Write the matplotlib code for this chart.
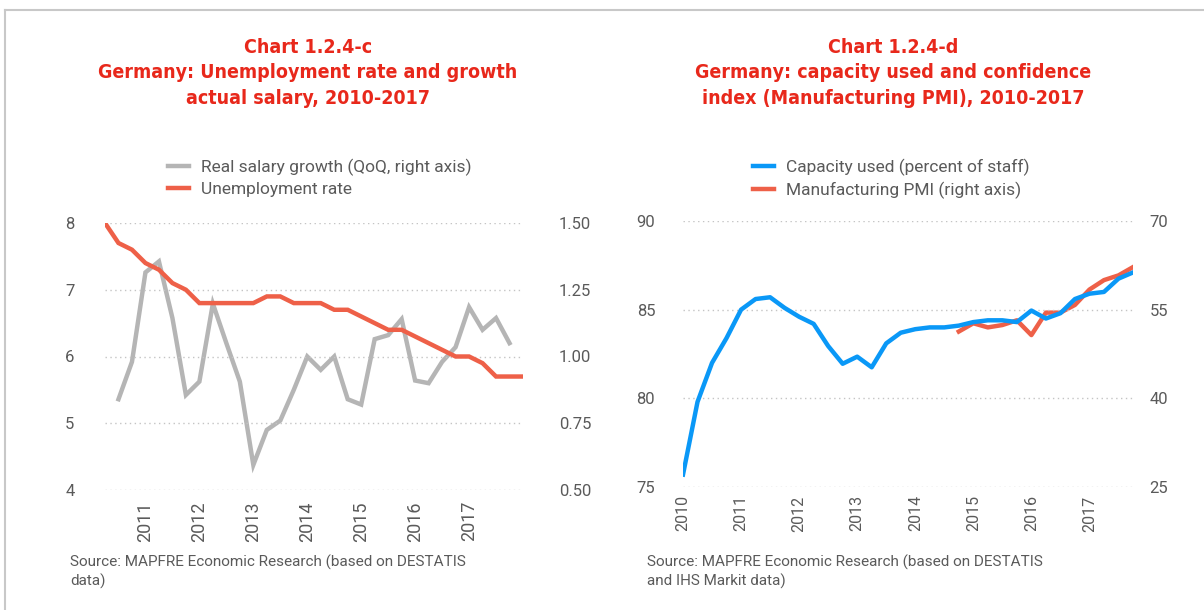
import numpy as np
import matplotlib
matplotlib.use('Agg')
import matplotlib.pyplot as plt
from matplotlib.lines import Line2D
from matplotlib import font_manager

# data, quarterly 2010-2017 (32 points)
unemployment = [8.0, 7.7, 7.6, 7.4, 7.3, 7.1, 7.0, 6.8, 6.8, 6.8, 6.8, 6.8, 6.9, 6.9, 6.8, 6.8,
                6.8, 6.7, 6.7, 6.6, 6.5, 6.4, 6.4, 6.3, 6.2, 6.1, 6.0, 6.0, 5.9, 5.7, 5.7, 5.7]
salary_growth = [np.nan, 0.84, 0.98, 1.315, 1.356, 1.144, 0.856, 0.906, 1.198, 1.05, 0.906, 0.594,
                 0.725, 0.76, 0.875, 1.0, 0.95, 1.0, 0.84, 0.82, 1.065, 1.08, 1.14, 0.91,
                 0.90, 0.98, 1.035, 1.185, 1.10, 1.144, 1.05, np.nan]
capacity = [75.7, 79.8, 82.0, 83.4, 85.0, 85.6, 85.7, 85.1, 84.6, 84.2, 82.95, 81.95, 82.35, 81.75,
            83.1, 83.7, 83.9, 84.0, 84.0, 84.1, 84.3, 84.4, 84.4, 84.3, 84.95, 84.5, 84.8, 85.6,
            85.9, 86.0, 86.75, 87.1]
pmi = [np.nan] * 19 + [51.3, 52.7, 52.0, 52.4, 53.2, 50.7, 54.5, 54.5, 55.8, 58.4, 60.0, 60.8, 62.2]
years_c = ['2011', '2012', '2013', '2014', '2015', '2016', '2017']
years_d = ['2010', '2011', '2012', '2013', '2014', '2015', '2016', '2017']

RED = '#ee6048'
GREY = '#b5b5b5'
BLUE = '#0a98f7'
TITLE_RED = '#e8281b'
TXT = '#5a5a5a'
GRID = '#c4c4c4'
BODY_FONT = ['Roboto', 'DejaVu Sans']

# narrow bold font for the titles if there is one
narrow = None
for f in font_manager.fontManager.ttflist:
    if f.weight in ('bold', 700) and f.stretch in ('condensed', 'semi-condensed', 'extra-condensed'):
        narrow = f
        break
if narrow is not None:
    title_kw = dict(family=[narrow.name, 'DejaVu Sans'], fontstretch=narrow.stretch, fontsize=14)
else:
    title_kw = dict(family=['DejaVu Sans'], fontsize=12.5)

plt.rcParams['font.family'] = BODY_FONT

fig = plt.figure(figsize=(12.04, 6.10), dpi=100)

# frame around the page
fig.add_artist(Line2D([0.004, 1.0], [0.984, 0.984], color='#c8c8c8', lw=1.5))
fig.add_artist(Line2D([0.004, 0.004], [0.0, 0.984], color='#c8c8c8', lw=1.5))

x = np.arange(32)


def style_axes(ax, twin):
    for a in (ax, twin):
        for s in a.spines.values():
            s.set_visible(False)
        a.tick_params(length=0, colors=TXT, labelsize=12)
    ax.grid(axis='y', linestyle=(0, (1, 2.5)), color=GRID, lw=1)
    ax.set_axisbelow(True)


# ---- left chart
ax1 = fig.add_axes([105 / 1204, 1 - 490 / 610, 418 / 1204, 267 / 610])
ax1b = ax1.twinx()
ax1b.plot(x, salary_growth, color=GREY, lw=3.2, solid_joinstyle='miter')
ax1.plot(x, unemployment, color=RED, lw=3.2, solid_joinstyle='miter')
ax1.set_zorder(ax1b.get_zorder() + 1)
ax1.patch.set_visible(False)
ax1.set_xlim(0, 31)
ax1.set_ylim(4, 8)
ax1.set_yticks([4, 5, 6, 7, 8])
ax1b.set_ylim(0.5, 1.5)
ax1b.set_yticks([0.5, 0.75, 1.0, 1.25, 1.5])
ax1b.set_yticklabels(['0.50', '0.75', '1.00', '1.25', '1.50'])
style_axes(ax1, ax1b)
ax1.tick_params(axis='y', pad=22)
ax1b.tick_params(axis='y', pad=26)
ax1.set_xticks([3, 7, 11, 15, 19, 23, 27])
ax1.set_xticklabels(years_c, rotation=90)
ax1.tick_params(axis='x', pad=8, labelsize=13)

fig.text(308 / 1204, 1 - 73 / 610,
         'Chart 1.2.4-c\nGermany: Unemployment rate and growth\nactual salary, 2010-2017',
         ha='center', va='center', color=TITLE_RED, fontweight='bold',
         linespacing=1.45, **title_kw)

h1 = [Line2D([], [], color=GREY, lw=3.2), Line2D([], [], color=RED, lw=3.2)]
fig.legend(h1, ['Real salary growth (QoQ, right axis)', 'Unemployment rate'],
           loc='upper left', bbox_to_anchor=(168 / 1204, 1 - 159 / 610), frameon=False,
           fontsize=12.5, handlelength=1.2, handletextpad=0.7, labelspacing=0.3,
           labelcolor=TXT, borderaxespad=0, borderpad=0)

fig.text(70 / 1204, 1 - 572 / 610,
         'Source: MAPFRE Economic Research (based on DESTATIS\ndata)',
         ha='left', va='center', color=TXT, fontsize=11, linespacing=1.3)

# ---- right chart
ax2 = fig.add_axes([683 / 1204, 1 - 487 / 610, 450 / 1204, 266 / 610])
ax2b = ax2.twinx()
ax2b.plot(x, pmi, color=RED, lw=3.2)
ax2.plot(x, capacity, color=BLUE, lw=3.2)
ax2.set_zorder(ax2b.get_zorder() + 1)
ax2.patch.set_visible(False)
ax2.set_xlim(0, 31)
ax2.set_ylim(75, 90)
ax2.set_yticks([75, 80, 85, 90])
ax2b.set_ylim(25, 70)
ax2b.set_yticks([25, 40, 55, 70])
style_axes(ax2, ax2b)
ax2.tick_params(axis='y', pad=20)
ax2b.tick_params(axis='y', pad=12)
ax2.set_xticks([0, 4, 8, 12, 16, 20, 24, 28])
ax2.set_xticklabels(years_d, rotation=90)
ax2.tick_params(axis='x', pad=6, labelsize=11.5)

fig.text(893 / 1204, 1 - 73 / 610,
         'Chart 1.2.4-d\nGermany: capacity used and confidence\nindex (Manufacturing PMI), 2010-2017',
         ha='center', va='center', color=TITLE_RED, fontweight='bold',
         linespacing=1.45, **title_kw)

h2 = [Line2D([], [], color=BLUE, lw=3.2), Line2D([], [], color=RED, lw=3.2)]
fig.legend(h2, ['Capacity used (percent of staff)', 'Manufacturing PMI (right axis)'],
           loc='upper left', bbox_to_anchor=(753 / 1204, 1 - 159 / 610), frameon=False,
           fontsize=12.5, handlelength=1.2, handletextpad=0.7, labelspacing=0.3,
           labelcolor=TXT, borderaxespad=0, borderpad=0)

fig.text(647 / 1204, 1 - 572 / 610,
         'Source: MAPFRE Economic Research (based on DESTATIS\nand IHS Markit data)',
         ha='left', va='center', color=TXT, fontsize=11, linespacing=1.3)

fig.savefig('out.png', dpi=100)
